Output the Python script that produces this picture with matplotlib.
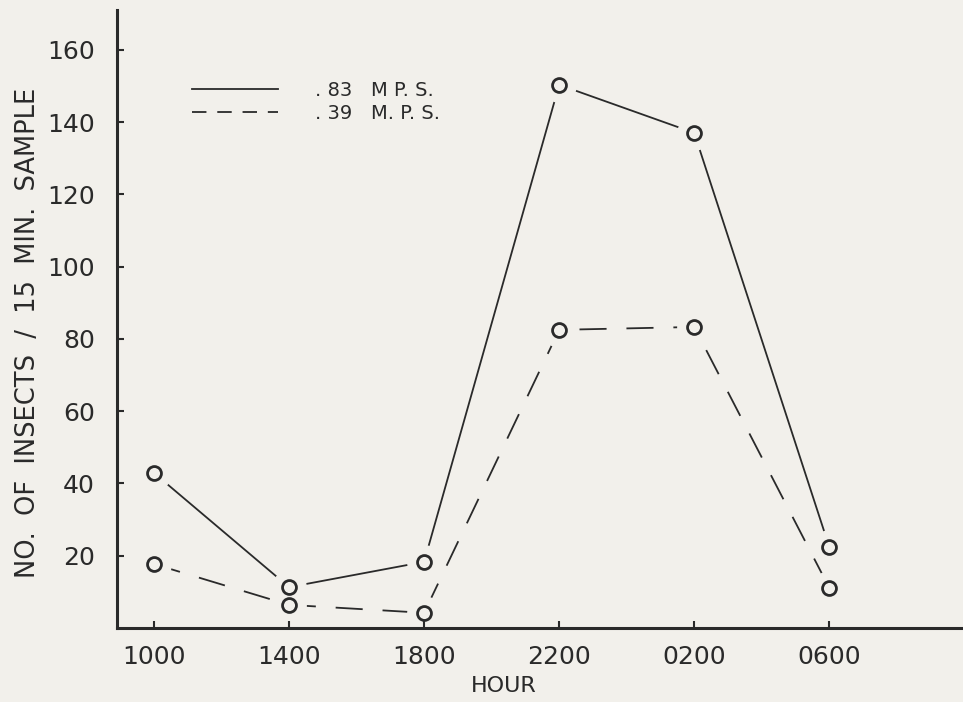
import numpy as np
import matplotlib.pyplot as plt
from matplotlib.lines import Line2D

# insect counts per 15 min sample
hours = ["1000", "1400", "1800", "2200", "0200", "0600"]
fast = [42.9, 11.3, 18.3, 150.3, 137.0, 22.4]    # .83 m.p.s.
slow = [17.7, 6.4, 4.2, 82.5, 83.3, 11.1]        # .39 m.p.s.
yticks = [20, 40, 60, 80, 100, 120, 140, 160]

bg = "#f2f0eb"
ink = "#2a2a2a"

plt.rcParams["font.family"] = ["DejaVu Sans"]

fig = plt.figure(figsize=(9.63, 7.02), dpi=100, facecolor=bg)
ax = fig.add_axes([117/963, 1 - 628/702, 846/963, 618/702], facecolor=bg)

x = np.arange(len(hours))
dash = (15, 11)

ax.plot(x, fast, color=ink, lw=1.3, zorder=2)
ax.plot(x, slow, color=ink, lw=1.3, dashes=dash, zorder=2)

# background disks leave a gap between line and circle
for ys in (fast, slow):
    ax.plot(x, ys, ls="none", marker="o", ms=24, mfc=bg, mec=bg, zorder=3)
for ys in (fast, slow):
    ax.plot(x, ys, ls="none", marker="o", ms=10, mfc=bg, mec=ink, mew=2.0, zorder=4)

ax.set_xlim(-0.274, 5.99)
ax.set_ylim(0, 171)
ax.set_xticks(x)
ax.set_xticklabels(hours)
ax.set_yticks(yticks)

for s in ("top", "right"):
    ax.spines[s].set_visible(False)
for s in ("left", "bottom"):
    ax.spines[s].set_linewidth(2.2)
    ax.spines[s].set_color(ink)
    ax.spines[s].set_zorder(5)
ax.xaxis.set_zorder(5)
ax.yaxis.set_zorder(5)

ax.tick_params(axis="both", direction="in", length=5, width=1.5, color=ink,
               labelsize=18, labelcolor=ink)
ax.tick_params(axis="y", pad=16)
ax.tick_params(axis="x", pad=12)

ax.set_ylabel("NO.  OF  INSECTS  /  15  MIN.  SAMPLE", fontsize=18.5, color=ink, va="center")
ax.yaxis.set_label_coords((28 - 117) / 846, (628 - 333) / 618)
ax.set_xlabel("HOUR", fontsize=16, color=ink, va="center")
ax.xaxis.set_label_coords((504 - 117) / 846, (628 - 686) / 618)

handles = [Line2D([], [], color=ink, lw=1.3),
           Line2D([], [], color=ink, lw=1.3, dashes=(8, 6))]
ax.legend(handles, [". 83   M P. S.", ". 39   M. P. S."], loc="upper left",
          bbox_to_anchor=((192 - 117) / 846, (628 - 81) / 618),
          frameon=False, fontsize=14, handlelength=4.4, handletextpad=1.9,
          labelspacing=0.2, borderpad=0, borderaxespad=0, labelcolor=ink)

fig.savefig("out.png", dpi=100, facecolor=bg)
